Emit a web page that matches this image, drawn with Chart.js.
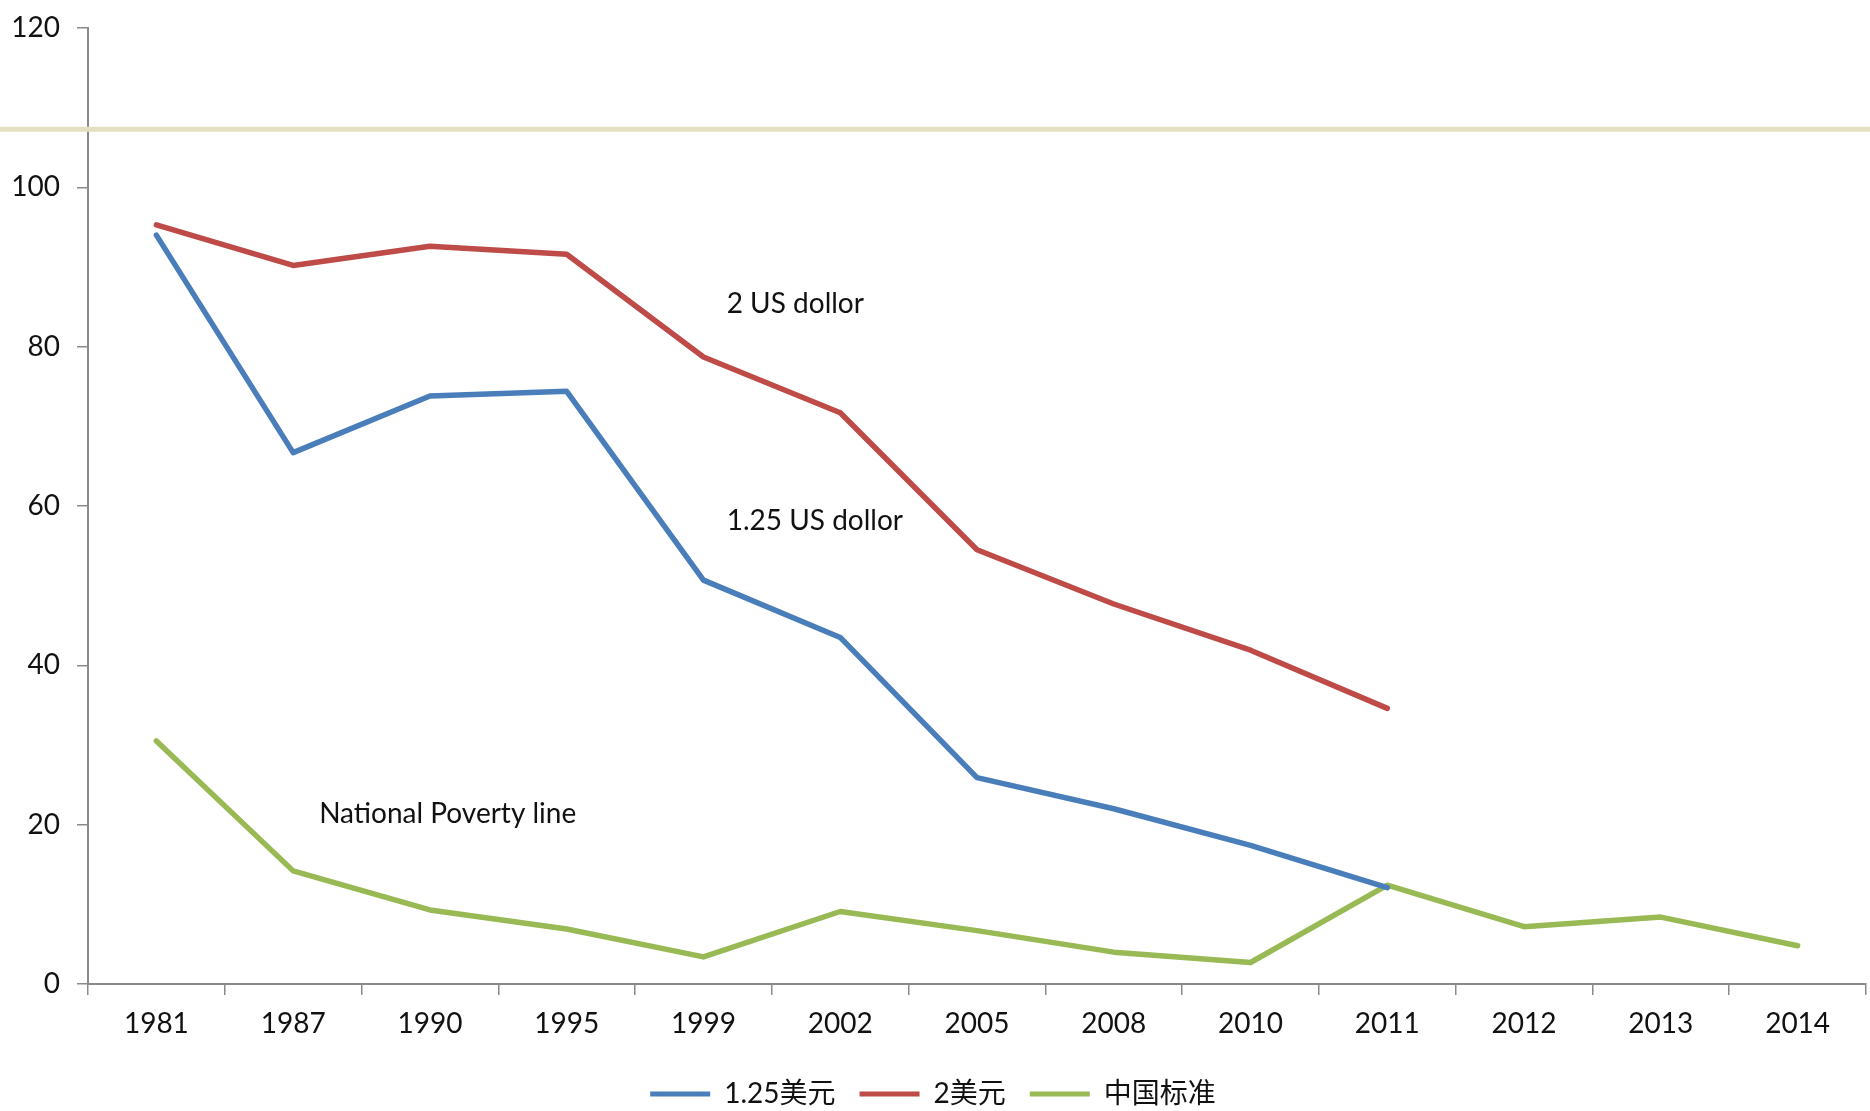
<!DOCTYPE html>
<html>
<head>
<meta charset="utf-8">
<script src="https://cdn.jsdelivr.net/npm/chart.js@4/dist/chart.umd.min.js"></script>
<style>
  html, body { margin: 0; padding: 0; background: #ffffff; }
  #wrap { width: 1870px; height: 1111px; }
</style>
</head>
<body>
<div id="wrap"><canvas id="c" width="1870" height="1111"></canvas></div>
<script>
// ---- data ----
const categories = ['1981','1987','1990','1995','1999','2002','2005','2008','2010','2011','2012','2013','2014'];
const usd125 = [94.0, 66.7, 73.8, 74.4, 50.7, 43.5, 25.9, 22.0, 17.4, 12.1, null, null, null];
const usd2   = [95.3, 90.2, 92.6, 91.6, 78.7, 71.7, 54.5, 47.7, 41.9, 34.6, null, null, null];
const chinaStd = [30.5, 14.2, 9.3, 6.9, 3.4, 9.1, 6.7, 4.0, 2.7, 12.4, 7.2, 8.4, 4.8];
const seriesNames = ['1.25美元', '2美元', '中国标准'];
const yTicks = [0, 20, 40, 60, 80, 100, 120];
const bandValue = 107.3;
// annotations: [text, category index position, value]
const annotations = [
  ['2 US dollor', 4.17, 85.3],
  ['1.25 US dollor', 4.17, 58.1],
  ['National Poverty line', 1.19, 21.3]
];

const FONT = 'Lato, "Noto Sans CJK SC", sans-serif';
const AXIS = '#8a8a8a';

const extras = {
  id: 'extras',
  beforeDatasetsDraw(chart) {
    const { ctx, scales: { y } } = chart;
    const py = y.getPixelForValue(bandValue);
    ctx.save();
    ctx.strokeStyle = '#e3e0c2';
    ctx.lineWidth = 5;
    ctx.beginPath();
    ctx.moveTo(0, py);
    ctx.lineTo(chart.width, py);
    ctx.stroke();
    ctx.restore();
  },
  afterDatasetsDraw(chart) {
    const { ctx, scales: { x, y } } = chart;
    ctx.save();
    ctx.fillStyle = '#111111';
    ctx.font = '28px ' + FONT;
    ctx.textAlign = 'left';
    ctx.textBaseline = 'middle';
    const x0 = x.getPixelForValue(0), x1 = x.getPixelForValue(1);
    annotations.forEach(([t, ci, v]) => {
      ctx.fillText(t, x0 + (x1 - x0) * ci, y.getPixelForValue(v));
    });
    ctx.restore();
  }
};

const mk = (label, data, color) => ({
  label, data,
  borderColor: color, backgroundColor: color,
  borderWidth: 5.5, pointRadius: 0, pointHoverRadius: 0,
  tension: 0, spanGaps: false,
  borderCapStyle: 'round', borderJoinStyle: 'round'
});

new Chart(document.getElementById('c'), {
  type: 'line',
  data: {
    labels: categories,
    datasets: [
      mk(seriesNames[0], usd125, '#4a7ebb'),
      mk(seriesNames[1], usd2, '#be4b48'),
      mk(seriesNames[2], chinaStd, '#98b954')
    ]
  },
  plugins: [extras],
  options: {
    responsive: false,
    animation: false,
    events: [],
    layout: { padding: { left: 0, right: 4, top: 28, bottom: -7 } },
    plugins: {
      tooltip: { enabled: false },
      legend: {
        position: 'bottom',
        labels: {
          font: { family: FONT, size: 28 },
          color: '#111111',
          boxWidth: 60,
          boxHeight: 5,
          padding: 24,
          generateLabels(chart) {
            return chart.data.datasets.map((d, i) => ({
              text: d.label, fillStyle: d.borderColor, strokeStyle: d.borderColor,
              lineWidth: 0, hidden: false, datasetIndex: i, fontColor: '#111111'
            }));
          }
        }
      }
    },
    scales: {
      x: {
        offset: true,
        grid: { display: true, drawOnChartArea: false, offset: true, color: AXIS, tickLength: 11, lineWidth: 1.5 },
        border: { display: true, color: AXIS, width: 2 },
        ticks: { font: { family: FONT, size: 28 }, color: '#111111', padding: 12, maxRotation: 0, autoSkip: false },
        afterFit(s) { s.height = 72; }
      },
      y: {
        min: 0, max: 120,
        afterBuildTicks(s) { s.ticks = yTicks.map(v => ({ value: v })); },
        grid: { display: true, drawOnChartArea: false, color: AXIS, tickLength: 11, lineWidth: 1.5 },
        border: { display: true, color: AXIS, width: 2 },
        ticks: { font: { family: FONT, size: 28 }, color: '#111111', padding: 17 },
        afterFit(s) { s.width = 88; s.paddingTop = 0; s.paddingBottom = 0; }
      }
    }
  }
});
</script>
</body>
</html>
